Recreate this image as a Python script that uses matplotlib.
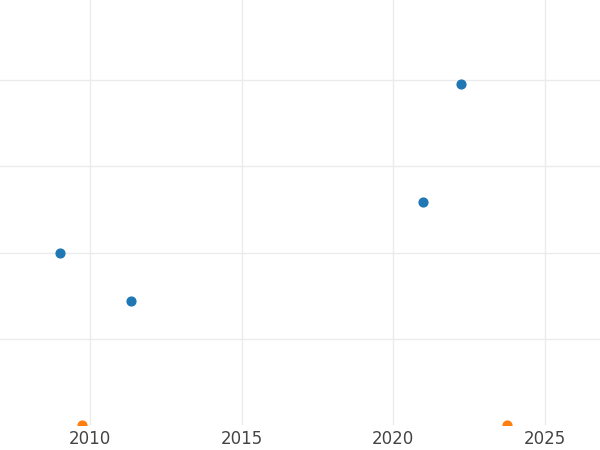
import matplotlib
matplotlib.use("Agg")
import matplotlib.pyplot as plt

blue_x = [2009.0, 2011.35, 2021.0, 2022.25]
blue_y = [2.0, 1.44, 2.59, 3.95]
orange_x = [2009.75, 2023.77]
orange_y = [0.0, 0.0]
xticks = [2010, 2015, 2020, 2025]

fig = plt.figure(figsize=(6, 4.5), dpi=100)
ax = fig.add_axes([0, 1 - 425/450, 1, 425/450])
ax.scatter(blue_x, blue_y, color="#1f77b4", s=40, zorder=3, clip_on=True)
ax.scatter(orange_x, orange_y, color="#ff7f0e", s=40, zorder=3, clip_on=True)
ax.set_xlim(2007.03, 2026.83)
ax.set_ylim(0, 4.93)
ax.set_xticks(xticks)
ax.set_yticks([1, 2, 3, 4])
ax.set_yticklabels([])
ax.grid(True, color="#ebebeb", linewidth=1)
ax.set_axisbelow(True)
for s in ax.spines.values():
    s.set_visible(False)
ax.tick_params(axis="both", length=0, labelsize=12, colors="#444444")
ax.tick_params(axis="y", labelleft=False)
fig.savefig("out.png")
